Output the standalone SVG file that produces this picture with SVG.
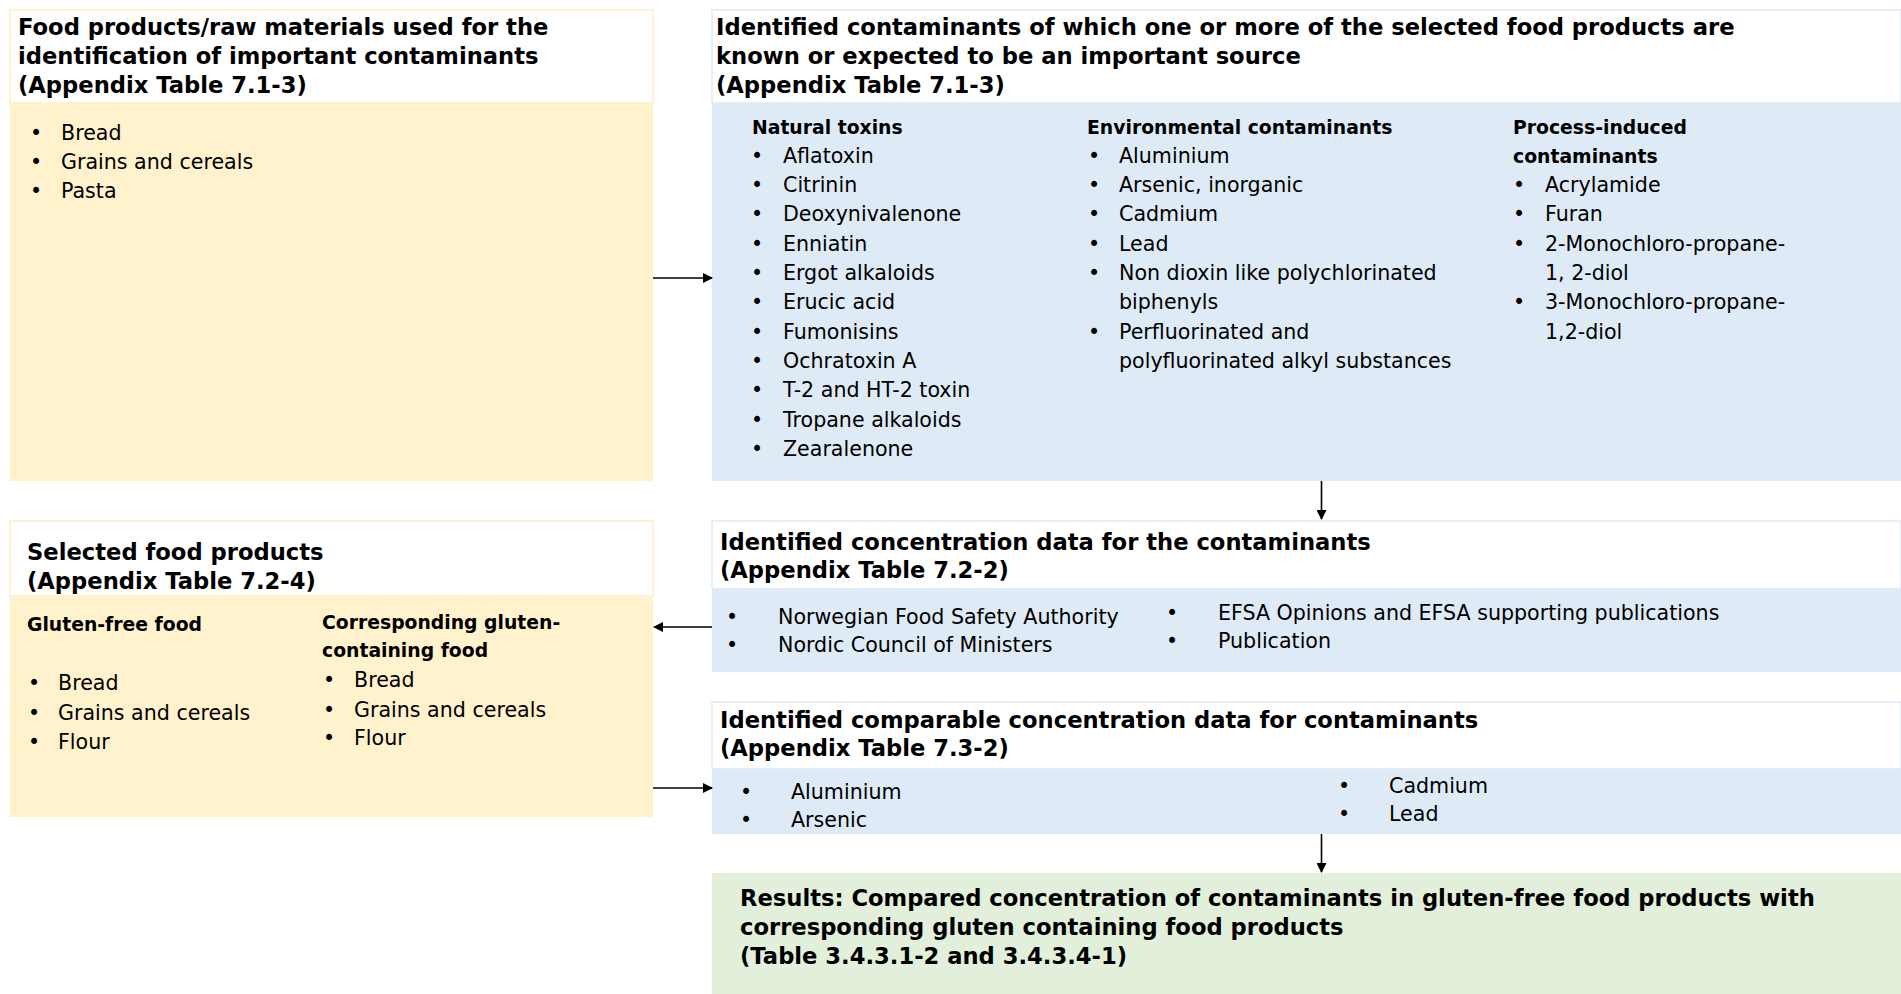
<svg xmlns="http://www.w3.org/2000/svg" width="1901" height="994" viewBox="0 0 1901 994">
<defs>
<marker id="ah" markerWidth="10" markerHeight="10" refX="9" refY="5" orient="auto" markerUnits="userSpaceOnUse">
<path d="M0,0 L10,5 L0,10 Z" fill="#000"/>
</marker>
<style>
.h{font-family:"DejaVu Sans","Liberation Sans",sans-serif;font-weight:bold;font-size:22.65px;fill:#000}
.s{font-family:"DejaVu Sans","Liberation Sans",sans-serif;font-weight:bold;font-size:18.8px;fill:#000}
.t{font-family:"DejaVu Sans","Liberation Sans",sans-serif;font-size:20.6px;fill:#000}
.yh{fill:#fff;stroke:#FFE9B3;stroke-width:1.2}
.yb{fill:#FFF2CC}
.bh{fill:#fff;stroke:#D9E3F5;stroke-width:1.2}
.bb{fill:#DEEAF6}
.gb{fill:#E2EFDA}
.c{stroke:#000;stroke-width:1.6;fill:none;marker-end:url(#ah)}
</style>
</defs>
<rect width="1901" height="994" fill="#fff"/>

<g id="food-products">
<rect class="yh" x="10" y="10" width="643" height="93"/>
<rect class="yb" x="10" y="103" width="643" height="378"/>
<text class="h" x="18" y="35">Food products/raw materials used for the</text>
<text class="h" x="18" y="64">identification of important contaminants</text>
<text class="h" x="18" y="93">(Appendix Table 7.1-3)</text>
<text class="t" x="30" y="139.5">•</text><text class="t" x="61" y="139.5">Bread</text>
<text class="t" x="30" y="168.5">•</text><text class="t" x="61" y="168.5">Grains and cereals</text>
<text class="t" x="30" y="197.5">•</text><text class="t" x="61" y="197.5">Pasta</text>
</g>

<g id="contaminants">
<rect class="bh" x="712" y="10" width="1189" height="93"/>
<rect class="bb" x="712" y="103" width="1189" height="378"/>
<text class="h" x="716" y="35">Identified contaminants of which one or more of the selected food products are</text>
<text class="h" x="716" y="64">known or expected to be an important source</text>
<text class="h" x="716" y="93">(Appendix Table 7.1-3)</text>
<text class="s" x="752" y="134">Natural toxins</text>
<g class="t">
<text x="751" y="162.5">•</text><text x="783" y="162.5">Aflatoxin</text>
<text x="751" y="191.8">•</text><text x="783" y="191.8">Citrinin</text>
<text x="751" y="221.2">•</text><text x="783" y="221.2">Deoxynivalenone</text>
<text x="751" y="250.5">•</text><text x="783" y="250.5">Enniatin</text>
<text x="751" y="279.9">•</text><text x="783" y="279.9">Ergot alkaloids</text>
<text x="751" y="309.2">•</text><text x="783" y="309.2">Erucic acid</text>
<text x="751" y="338.6">•</text><text x="783" y="338.6">Fumonisins</text>
<text x="751" y="367.9">•</text><text x="783" y="367.9">Ochratoxin A</text>
<text x="751" y="397.3">•</text><text x="783" y="397.3">T-2 and HT-2 toxin</text>
<text x="751" y="426.6">•</text><text x="783" y="426.6">Tropane alkaloids</text>
<text x="751" y="456">•</text><text x="783" y="456">Zearalenone</text>
</g>
<text class="s" x="1087" y="134">Environmental contaminants</text>
<g class="t">
<text x="1088" y="162.5">•</text><text x="1119" y="162.5">Aluminium</text>
<text x="1088" y="191.8">•</text><text x="1119" y="191.8">Arsenic, inorganic</text>
<text x="1088" y="221.2">•</text><text x="1119" y="221.2">Cadmium</text>
<text x="1088" y="250.5">•</text><text x="1119" y="250.5">Lead</text>
<text x="1088" y="279.9">•</text><text x="1119" y="279.9">Non dioxin like polychlorinated</text>
<text x="1119" y="309.2">biphenyls</text>
<text x="1088" y="338.6">•</text><text x="1119" y="338.6">Perfluorinated and</text>
<text x="1119" y="367.9">polyfluorinated alkyl substances</text>
</g>
<text class="s" x="1513" y="134">Process-induced</text>
<text class="s" x="1513" y="163">contaminants</text>
<g class="t">
<text x="1513" y="191.8">•</text><text x="1545" y="191.8">Acrylamide</text>
<text x="1513" y="221.2">•</text><text x="1545" y="221.2">Furan</text>
<text x="1513" y="250.5">•</text><text x="1545" y="250.5">2-Monochloro-propane-</text>
<text x="1545" y="279.9">1, 2-diol</text>
<text x="1513" y="309.2">•</text><text x="1545" y="309.2">3-Monochloro-propane-</text>
<text x="1545" y="338.6">1,2-diol</text>
</g>
</g>

<g id="selected-food">
<rect class="yh" x="10" y="521" width="643" height="75"/>
<rect class="yb" x="10" y="596" width="643" height="221"/>
<text class="h" x="27" y="560">Selected food products</text>
<text class="h" x="27" y="589">(Appendix Table 7.2-4)</text>
<text class="s" x="27" y="631">Gluten-free food</text>
<g class="t">
<text x="28" y="690">•</text><text x="58" y="690">Bread</text>
<text x="28" y="720">•</text><text x="58" y="720">Grains and cereals</text>
<text x="28" y="749">•</text><text x="58" y="749">Flour</text>
</g>
<text class="s" x="322" y="629">Corresponding gluten-</text>
<text class="s" x="322" y="657">containing food</text>
<g class="t">
<text x="323" y="687">•</text><text x="354" y="687">Bread</text>
<text x="323" y="717">•</text><text x="354" y="717">Grains and cereals</text>
<text x="323" y="745">•</text><text x="354" y="745">Flour</text>
</g>
</g>

<g id="concentration-data">
<rect class="bh" x="712" y="521" width="1189" height="68"/>
<rect class="bb" x="712" y="589" width="1189" height="83"/>
<text class="h" x="720" y="550">Identified concentration data for the contaminants</text>
<text class="h" x="720" y="578">(Appendix Table 7.2-2)</text>
<g class="t">
<text x="726" y="624">•</text><text x="778" y="624">Norwegian Food Safety Authority</text>
<text x="726" y="652">•</text><text x="778" y="652">Nordic Council of Ministers</text>
<text x="1166" y="620">•</text><text x="1218" y="620">EFSA Opinions and EFSA supporting publications</text>
<text x="1166" y="648">•</text><text x="1218" y="648">Publication</text>
</g>
</g>

<g id="comparable-data">
<rect class="bh" x="712" y="702" width="1189" height="67"/>
<rect class="bb" x="712" y="769" width="1189" height="65"/>
<text class="h" x="720" y="728">Identified comparable concentration data for contaminants</text>
<text class="h" x="720" y="756">(Appendix Table 7.3-2)</text>
<g class="t">
<text x="740" y="799">•</text><text x="791" y="799">Aluminium</text>
<text x="740" y="827">•</text><text x="791" y="827">Arsenic</text>
<text x="1338" y="793">•</text><text x="1389" y="793">Cadmium</text>
<text x="1338" y="821">•</text><text x="1389" y="821">Lead</text>
</g>
</g>

<g id="results">
<rect class="gb" x="712" y="873" width="1189" height="121"/>
<text class="h" x="740" y="906">Results: Compared concentration of contaminants in gluten-free food products with</text>
<text class="h" x="740" y="935">corresponding gluten containing food products</text>
<text class="h" x="740" y="964">(Table 3.4.3.1-2 and 3.4.3.4-1)</text>
</g>

<g id="connectors">
<line class="c" x1="653" y1="278" x2="712" y2="278"/>
<line class="c" x1="1321.5" y1="481" x2="1321.5" y2="519"/>
<line class="c" x1="712" y1="627" x2="654" y2="627"/>
<line class="c" x1="653" y1="788" x2="712" y2="788"/>
<line class="c" x1="1321.5" y1="834" x2="1321.5" y2="872"/>
</g>
</svg>
